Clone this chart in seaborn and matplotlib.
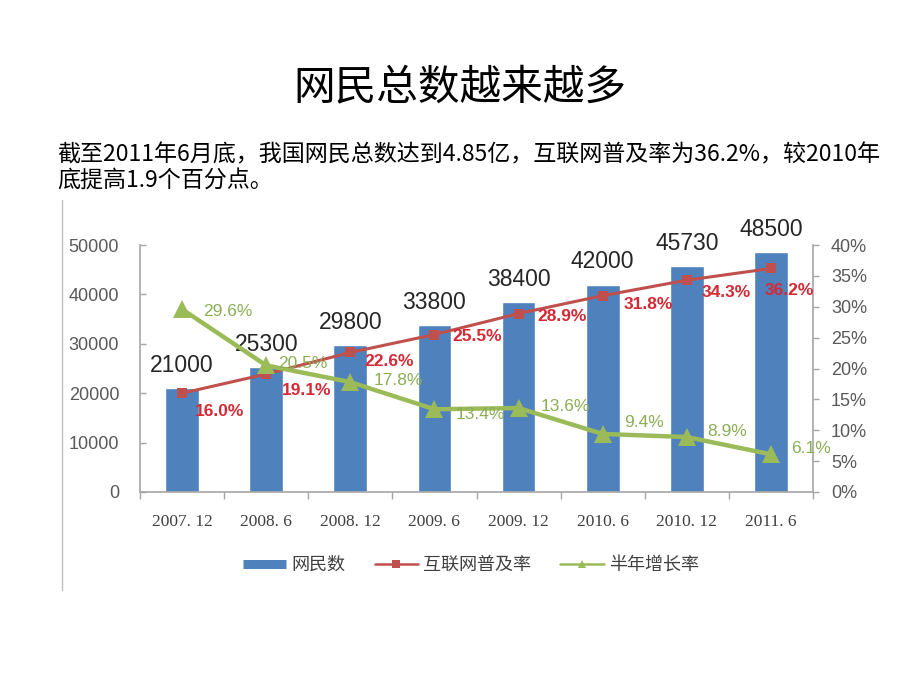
import numpy as np
import pandas as pd
import seaborn as sns
import matplotlib
matplotlib.use("Agg")
import matplotlib.pyplot as plt
from matplotlib.lines import Line2D
from matplotlib.ticker import FixedLocator, FuncFormatter

# ---------------- data ----------------
periods = ["2007. 12", "2008. 6", "2008. 12", "2009. 6", "2009. 12", "2010. 6", "2010. 12", "2011. 6"]
netizens = [21000, 25300, 29800, 33800, 38400, 42000, 45730, 48500]          # 网民数 (万人)
penetration = [16.0, 19.1, 22.6, 25.5, 28.9, 31.8, 34.3, 36.2]             # 互联网普及率 %
growth = [29.6, 20.5, 17.8, 13.4, 13.6, 9.4, 8.9, 6.1]                     # 半年增长率 %
left_ticks = [0, 10000, 20000, 30000, 40000, 50000]
right_ticks = [0, 5, 10, 15, 20, 25, 30, 35, 40]
series_names = ["网民数", "互联网普及率", "半年增长率"]

title = "网民总数越来越多"
subtitle1 = "截至2011年6月底，我国网民总数达到4.85亿，互联网普及率为36.2%，较2010年"
subtitle2 = "底提高1.9个百分点。"

# label placement (pixels: dx to left edge, dy upward)
pen_off = [(13, -18), (16, -16), (14, -9), (18, -2), (19, -3), (21, -9), (15, -12), (-6, -22)]
gro_off = [(21, -2), (12, 2), (23, 2), (21, -5), (22, 2), (21, 11), (20, 6), (20, 6)]

BLUE = "#4F81BD"
RED = "#C0504D"
RED_TXT = "#D42A35"
GREEN = "#9BBB59"
GREEN_TXT = "#8BAE55"
AXIS = "#A6A6A6"
TICK_TXT = "#595959"

sns.set_theme(style="white")
plt.rcParams["font.family"] = ["Noto Sans CJK SC", "DejaVu Sans"]

fig = plt.figure(figsize=(9.2, 6.9), dpi=100)
fig.patch.set_facecolor("white")

W, H = 920, 690
ax = fig.add_axes([140 / W, 1 - 492 / H, (813 - 140) / W, 247 / H])

df = pd.DataFrame({"period": periods, "netizens": netizens})
sns.barplot(data=df, x="period", y="netizens", color=BLUE, width=0.4,
            saturation=1, ax=ax, zorder=2)
ax.set_xlim(-0.5, len(periods) - 0.5)
ax.set_ylim(0, 50000)
ax.set_xlabel("")
ax.set_ylabel("")
ax.yaxis.set_major_locator(FixedLocator(left_ticks))
ax.yaxis.set_major_formatter(FuncFormatter(lambda v, p: f"{int(v)}"))

ax.bar_label(ax.containers[0], labels=[str(v) for v in netizens], padding=8,
             fontsize=16.5, color="#262626", family=["Liberation Sans"])

for s in ["top", "right"]:
    ax.spines[s].set_visible(False)
for s in ["left", "bottom"]:
    ax.spines[s].set_color(AXIS)
    ax.spines[s].set_linewidth(1.2)

ax.tick_params(axis="y", direction="in", length=4, color=AXIS, width=1,
               labelcolor=TICK_TXT, labelsize=13, pad=15, left=True)
for lab in ax.get_yticklabels():
    lab.set_family(["Liberation Sans"])
ax.xaxis.set_minor_locator(FixedLocator(np.arange(-0.5, len(periods), 1.0)))
ax.tick_params(axis="x", which="major", length=0, pad=16, labelsize=12.5, labelcolor="#404040")
ax.tick_params(axis="x", which="minor", direction="out", length=5, color=AXIS, width=1, bottom=True)
for lab in ax.get_xticklabels():
    lab.set_family(["Liberation Serif"])

# secondary axis
ax2 = ax.twinx()
xs = np.arange(len(periods))
sns.lineplot(x=xs, y=penetration, ax=ax2, color=RED, lw=2.2, marker="s",
             markersize=7, markeredgewidth=0, zorder=3)
sns.lineplot(x=xs, y=growth, ax=ax2, color=GREEN, lw=3.2, marker="^",
             markersize=13, markeredgewidth=0, zorder=4)
ax2.set_ylim(0, 40)
ax2.set_xlim(-0.5, len(periods) - 0.5)
ax2.yaxis.set_major_locator(FixedLocator(right_ticks))
ax2.yaxis.set_major_formatter(FuncFormatter(lambda v, p: f"{int(v)}%"))
for s in ["top", "left", "bottom"]:
    ax2.spines[s].set_visible(False)
ax2.spines["right"].set_color(AXIS)
ax2.spines["right"].set_linewidth(1.2)
ax2.tick_params(axis="y", direction="out", length=4, color=AXIS, width=1,
                labelcolor=TICK_TXT, labelsize=13, pad=9, right=True)
for lab in ax2.get_yticklabels():
    lab.set_family(["Liberation Sans"])
ax2.set_ylabel("")

for i, v in enumerate(penetration):
    dx, dy = pen_off[i]
    ax2.annotate(f"{v:.1f}%", (xs[i], v), xytext=(dx, dy), textcoords="offset pixels",
                 ha="left", va="center", fontsize=12.5, fontweight="bold",
                 color=RED_TXT, family=["Liberation Sans"], zorder=6)
for i, v in enumerate(growth):
    dx, dy = gro_off[i]
    ax2.annotate(f"{v:.1f}%", (xs[i], v), xytext=(dx, dy), textcoords="offset pixels",
                 ha="left", va="center", fontsize=12.5,
                 color=GREEN_TXT, family=["Liberation Sans"], zorder=6)

# legend
handles = [
    Line2D([], [], color=BLUE, lw=6.5, solid_capstyle="butt"),
    Line2D([], [], color=RED, lw=1.8, marker="s", markersize=6, markeredgewidth=0),
    Line2D([], [], color=GREEN, lw=1.8, marker="^", markersize=6, markeredgewidth=0),
]
leg = fig.legend(handles, series_names, loc="center", bbox_to_anchor=(0.512, 1 - 565 / H),
                 ncol=3, frameon=False, fontsize=13, handlelength=2.4,
                 handletextpad=0.3, columnspacing=1.6)
for t in leg.get_texts():
    t.set_color("#404040")

# frame line at the left of the chart image
fig.add_artist(Line2D([62 / W, 62 / W], [1 - 200 / H, 1 - 590 / H], color="#BFBFBF", lw=1))

# title and subtitle
fig.text(460 / W, 1 - 88 / H, title, ha="center", va="center", fontsize=30, color="#000000")
fig.text(57 / W, 1 - 155 / H, subtitle1, ha="left", va="center", fontsize=16.6, color="#000000")
fig.text(57 / W, 1 - 180 / H, subtitle2, ha="left", va="center", fontsize=16.6, color="#000000")

fig.savefig("out.png", dpi=100, facecolor="white")
